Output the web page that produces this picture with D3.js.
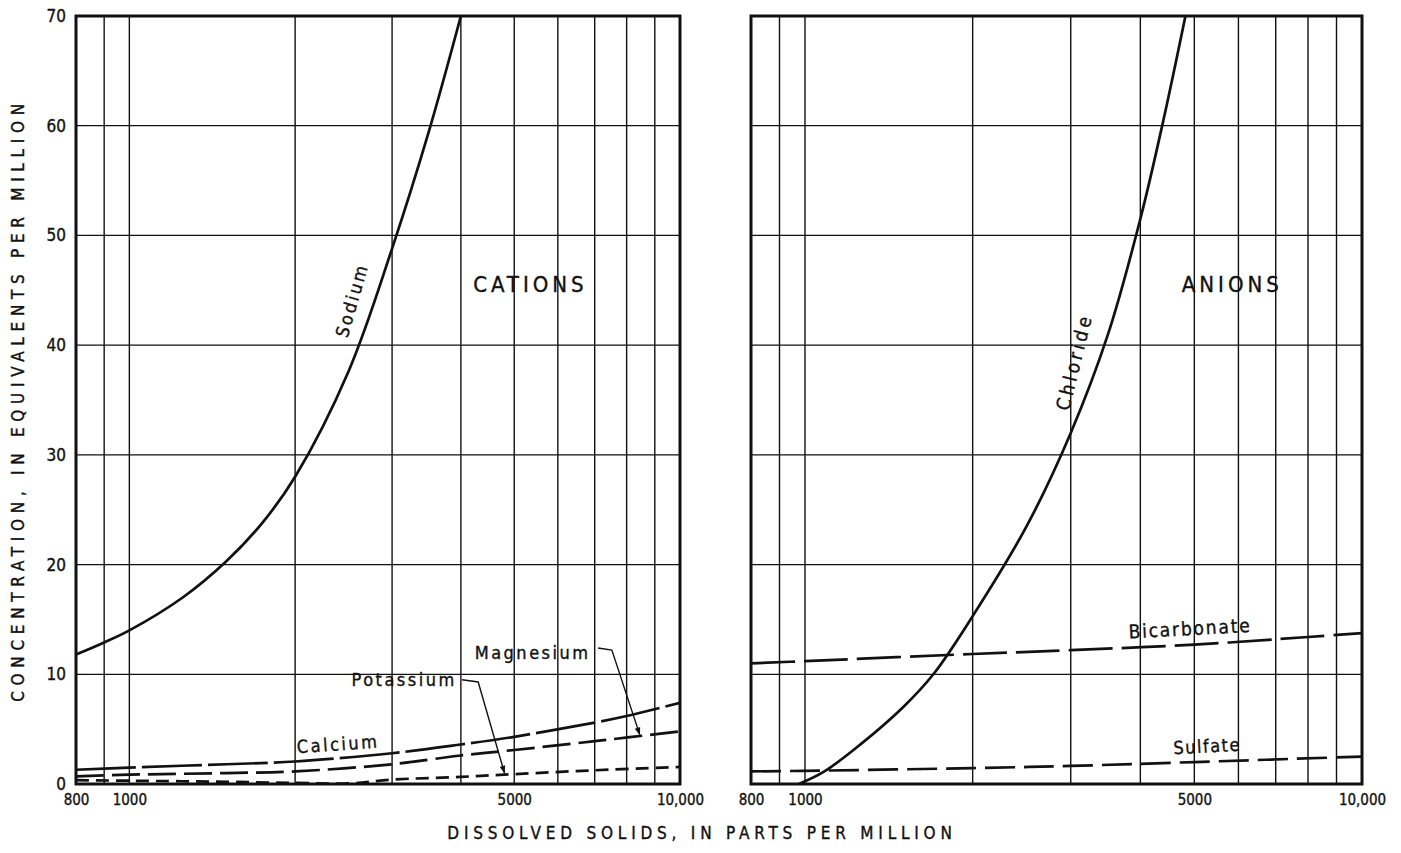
<!DOCTYPE html>
<html>
<head>
<meta charset="utf-8">
<script src="https://cdn.jsdelivr.net/npm/d3@7"></script>
<style>
  body { margin: 0; background: #fff; }
  text { font-family: "DejaVu Sans Condensed", "Liberation Sans Narrow", sans-serif; fill: #111; stroke: #111; stroke-width: 0.35px; }
</style>
</head>
<body>
<div id="chart"></div>
<script>
// axis values
const yTicks = [0, 10, 20, 30, 40, 50, 60, 70];
const xGridValues = [900, 1000, 2000, 3000, 4000, 5000, 6000, 7000, 8000, 9000];
const xTickValues = [800, 1000, 5000, 10000];
const xTickLabels = ["800", "1000", "5000", "10,000"];

// cations, [dissolved solids ppm, epm]
const sodium = [[800, 11.8], [900, 12.9], [1000, 14.0], [1250, 17.0], [1500, 20.3], [1750, 23.9], [2000, 28], [2500, 37.6], [3000, 48.8], [3500, 59.5], [4000, 70]];
const calcium = [[800, 1.3], [1000, 1.5], [1500, 1.8], [2000, 2.05], [3000, 2.8], [4000, 3.6], [5000, 4.3], [7000, 5.6], [8000, 6.2], [10000, 7.4]];
const magnesium = [[800, 0.7], [1000, 0.85], [1500, 1.0], [2000, 1.15], [3000, 1.8], [4000, 2.6], [5000, 3.1], [7000, 3.9], [10000, 4.8]];
const potassium = [[800, 0.35], [1000, 0.3], [1500, 0.2], [2000, 0.1], [2500, 0.05], [3000, 0.4], [4000, 0.65], [5000, 0.9], [7000, 1.25], [10000, 1.55]];

// anions
const chloride = [[975, 0], [1080, 1.1], [1250, 3.5], [1500, 7.0], [1700, 10.0], [2000, 15.3], [2500, 23.5], [3000, 32], [3500, 41], [4000, 51.5], [4400, 60.5], [4820, 70]];
const bicarbonate = [[800, 11.0], [1000, 11.2], [2000, 11.85], [3000, 12.2], [5000, 12.7], [8000, 13.4], [10000, 13.75]];
const sulfate = [[800, 1.15], [1000, 1.2], [2000, 1.45], [3000, 1.65], [5000, 2.0], [10000, 2.5]];

const width = 1401, height = 853;

const svg = d3.select("#chart").append("svg")
  .attr("width", width)
  .attr("height", height)
  .style("background", "#fff");

const y = d3.scaleLinear().domain([0, 70]).range([784, 16]);
const xLeft = d3.scaleLog().domain([800, 10000]).range([76, 680]);
const xRight = d3.scaleLog().domain([800, 10000]).range([751, 1362]);

svg.append("defs").append("marker")
  .attr("id", "arrow")
  .attr("viewBox", "0 0 10 10")
  .attr("refX", 9).attr("refY", 5)
  .attr("markerWidth", 10).attr("markerHeight", 8)
  .attr("markerUnits", "userSpaceOnUse")
  .attr("orient", "auto")
  .append("path")
  .attr("d", "M0,1.5 L10,5 L0,8.5 Z")
  .attr("fill", "#111");

function drawPanel(x, id, series, showY) {
  const g = svg.append("g");
  const [x0, x1] = x.range();

  g.append("clipPath").attr("id", id)
    .append("rect")
    .attr("x", x0).attr("y", y(70))
    .attr("width", x1 - x0).attr("height", y(0) - y(70));

  // grid
  g.selectAll(".vgrid")
    .data(xGridValues)
    .join("line")
    .attr("x1", d => x(d)).attr("x2", d => x(d))
    .attr("y1", y(70)).attr("y2", y(0))
    .attr("stroke", "#111").attr("stroke-width", 1.4);

  g.selectAll(".hgrid")
    .data(yTicks.slice(1, -1))
    .join("line")
    .attr("x1", x0).attr("x2", x1)
    .attr("y1", d => y(d)).attr("y2", d => y(d))
    .attr("stroke", "#111").attr("stroke-width", 1.2);

  // curves
  const line = d3.line()
    .x(d => x(d[0]))
    .y(d => y(d[1]))
    .curve(d3.curveCatmullRom.alpha(0.5));

  g.append("g").attr("clip-path", `url(#${id})`)
    .selectAll("path")
    .data(series)
    .join("path")
    .attr("d", d => line(d.values))
    .attr("fill", "none")
    .attr("stroke", "#111")
    .attr("stroke-width", 2.7)
    .attr("stroke-dasharray", d => d.dash);

  // frame
  g.append("rect")
    .attr("x", x0).attr("y", y(70))
    .attr("width", x1 - x0).attr("height", y(0) - y(70))
    .attr("fill", "none")
    .attr("stroke", "#111")
    .attr("stroke-width", 3);

  // x tick labels
  const xAxis = d3.axisBottom(x)
    .tickValues(xTickValues)
    .tickFormat((d, i) => xTickLabels[i])
    .tickSize(0)
    .tickPadding(10);
  const ax = g.append("g").attr("transform", `translate(0,${y(0)})`).call(xAxis);
  ax.select(".domain").remove();
  ax.selectAll("text").style("font-size", "15px").attr("fill", "#111")
    .style("font-family", "\"DejaVu Sans Condensed\", sans-serif");

  if (showY) {
    const yAxis = d3.axisLeft(y).tickValues(yTicks).tickSize(0).tickPadding(10);
    const ay = g.append("g").attr("transform", `translate(${x0},0)`).call(yAxis);
    ay.select(".domain").remove();
    ay.selectAll("text").style("font-size", "17px").attr("fill", "#111")
      .style("font-family", "\"DejaVu Sans Condensed\", sans-serif");
  }
  return g;
}

const left = drawPanel(xLeft, "clipL", [
  { values: sodium, dash: null },
  { values: calcium, dash: "60,6" },
  { values: magnesium, dash: "28,8" },
  { values: potassium, dash: "13,7" }
], true);

const right = drawPanel(xRight, "clipR", [
  { values: chloride, dash: null },
  { values: bicarbonate, dash: "44,9" },
  { values: sulfate, dash: "30,9" }
], false);

function label(g, x, vx, vy, txt, size, spacing, rotate) {
  g.append("text")
    .attr("transform", `translate(${x(vx)},${y(vy)}) rotate(${rotate || 0})`)
    .attr("text-anchor", "middle")
    .attr("dominant-baseline", "central")
    .style("font-size", size + "px")
    .style("letter-spacing", spacing + "px")
    .text(txt);
}

function leader(g, x, pts) {
  g.append("path")
    .attr("d", d3.line().x(d => x(d[0])).y(d => y(d[1]))(pts))
    .attr("fill", "none")
    .attr("stroke", "#111")
    .attr("stroke-width", 1.4)
    .attr("marker-end", "url(#arrow)");
}

// panel labels
label(left, xLeft, 5350, 45.5, "CATIONS", 22, 4);
label(right, xRight, 5850, 45.5, "ANIONS", 22, 4);

// curve labels
label(left, xLeft, 2535, 44.1, "Sodium", 18, 2.5, -74);
label(left, xLeft, 2393, 3.65, "Calcium", 18, 2.5, -4);
label(left, xLeft, 3155, 9.5, "Potassium", 18, 2.5);
label(left, xLeft, 5400, 12.0, "Magnesium", 18, 2.5);
label(right, xRight, 3040, 38.5, "Chloride", 19, 3.5, -76);
label(right, xRight, 4910, 14.2, "Bicarbonate", 19, 1.8, -3);
label(right, xRight, 5270, 3.46, "Sulfate", 18, 1.5, -3);

leader(left, xLeft, [[4020, 9.5], [4300, 9.3], [4800, 1.0]]);
leader(left, xLeft, [[7100, 12.4], [7520, 12.2], [8450, 4.5]]);

// axis titles
svg.append("text")
  .attr("transform", `translate(18,${(y(0) + y(70)) / 2}) rotate(-90)`)
  .attr("text-anchor", "middle")
  .attr("dominant-baseline", "central")
  .style("font-size", "17px")
  .style("letter-spacing", "5.7px")
  .text("CONCENTRATION, IN EQUIVALENTS PER MILLION");

svg.append("text")
  .attr("x", 702)
  .attr("y", 833)
  .attr("text-anchor", "middle")
  .attr("dominant-baseline", "central")
  .style("font-size", "17px")
  .style("letter-spacing", "4.8px")
  .text("DISSOLVED SOLIDS, IN PARTS PER MILLION");
</script>
</body>
</html>
